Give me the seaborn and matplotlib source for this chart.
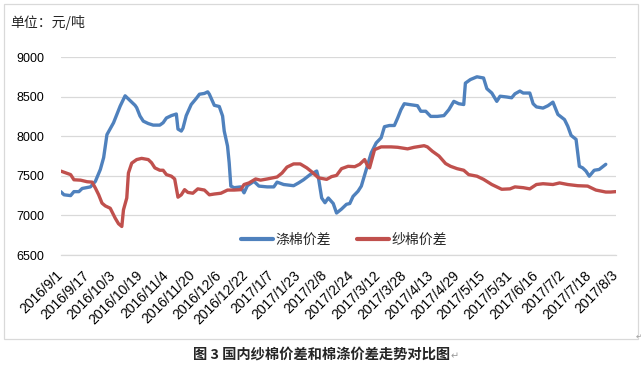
import matplotlib
matplotlib.use("Agg")
import matplotlib.pyplot as plt
import matplotlib.patches as mpatches
import matplotlib.lines as mlines
import matplotlib.transforms as mtransforms
import seaborn as sns
import pandas as pd

# ---------------- data ----------------
blue_name = "涤棉价差"
red_name = "纱棉价差"

blue_dates = [
    "2016-09-01", "2016-09-03", "2016-09-07", "2016-09-09", "2016-09-12", "2016-09-14",
    "2016-09-19", "2016-09-22", "2016-09-25", "2016-09-27", "2016-09-29", "2016-10-03",
    "2016-10-07", "2016-10-10", "2016-10-12", "2016-10-14", "2016-10-16", "2016-10-17",
    "2016-10-19", "2016-10-21", "2016-10-24", "2016-10-27", "2016-10-31", "2016-11-02",
    "2016-11-04", "2016-11-07", "2016-11-10", "2016-11-11", "2016-11-13", "2016-11-14",
    "2016-11-16", "2016-11-19", "2016-11-22", "2016-11-24", "2016-11-27", "2016-11-29",
    "2016-11-30", "2016-12-03", "2016-12-06", "2016-12-08", "2016-12-09", "2016-12-11",
    "2016-12-12", "2016-12-13", "2016-12-15", "2016-12-19", "2016-12-21", "2016-12-23",
    "2016-12-27", "2016-12-30", "2017-01-04", "2017-01-08", "2017-01-10", "2017-01-14",
    "2017-01-20", "2017-01-23", "2017-01-26", "2017-01-30", "2017-02-03", "2017-02-04",
    "2017-02-06", "2017-02-08", "2017-02-10", "2017-02-13", "2017-02-15", "2017-02-18",
    "2017-02-21", "2017-02-23", "2017-02-25", "2017-02-28", "2017-03-02", "2017-03-05",
    "2017-03-08", "2017-03-11", "2017-03-14", "2017-03-16", "2017-03-19", "2017-03-22",
    "2017-03-24", "2017-03-26", "2017-03-28", "2017-03-31", "2017-04-05", "2017-04-07",
    "2017-04-10", "2017-04-13", "2017-04-17", "2017-04-21", "2017-04-24", "2017-04-27",
    "2017-04-30", "2017-05-03", "2017-05-04", "2017-05-07", "2017-05-11", "2017-05-15",
    "2017-05-17", "2017-05-20", "2017-05-23", "2017-05-25", "2017-05-29", "2017-06-01",
    "2017-06-03", "2017-06-06", "2017-06-08", "2017-06-12", "2017-06-14", "2017-06-16",
    "2017-06-20", "2017-06-23", "2017-06-26", "2017-06-29", "2017-07-03", "2017-07-05",
    "2017-07-07", "2017-07-10", "2017-07-12", "2017-07-14", "2017-07-16", "2017-07-18",
    "2017-07-21", "2017-07-24", "2017-07-28",
]
blue_values = [
    7300, 7260, 7250, 7300, 7300, 7340,
    7360, 7430, 7580, 7730, 8020, 8170,
    8380, 8510, 8470, 8430, 8390, 8360,
    8255, 8190, 8160, 8140, 8140, 8170,
    8230, 8260, 8280, 8090, 8065, 8100,
    8260, 8400, 8475, 8530, 8540, 8560,
    8530, 8390, 8375, 8255, 8065, 7875,
    7665, 7370, 7350, 7360, 7285, 7375,
    7430, 7370, 7360, 7360, 7420, 7390,
    7375, 7410, 7450, 7515, 7560, 7480,
    7220, 7160, 7220, 7150, 7030, 7080,
    7140, 7150, 7240, 7305, 7370, 7580,
    7790, 7915, 7980, 8120, 8135, 8135,
    8230, 8335, 8410, 8400, 8385, 8315,
    8315, 8250, 8250, 8260, 8335, 8440,
    8410, 8400, 8670, 8715, 8750, 8735,
    8600, 8545, 8440, 8505, 8495, 8485,
    8535, 8570, 8545, 8545, 8410, 8370,
    8355, 8385, 8430, 8275, 8210, 8125,
    8010, 7960, 7620, 7600, 7560, 7495,
    7570, 7580, 7645,
]

red_dates = [
    "2016-09-01", "2016-09-05", "2016-09-07", "2016-09-09", "2016-09-13", "2016-09-17",
    "2016-09-20", "2016-09-22", "2016-09-24", "2016-09-26", "2016-09-28", "2016-10-01",
    "2016-10-04", "2016-10-06", "2016-10-08", "2016-10-09", "2016-10-11", "2016-10-12",
    "2016-10-14", "2016-10-17", "2016-10-20", "2016-10-24", "2016-10-26", "2016-10-28",
    "2016-10-31", "2016-11-02", "2016-11-04", "2016-11-07", "2016-11-09", "2016-11-10",
    "2016-11-11", "2016-11-13", "2016-11-15", "2016-11-17", "2016-11-20", "2016-11-23",
    "2016-11-27", "2016-11-30", "2016-12-03", "2016-12-07", "2016-12-11", "2016-12-15",
    "2016-12-19", "2016-12-21", "2016-12-24", "2016-12-28", "2016-12-31", "2017-01-04",
    "2017-01-10", "2017-01-13", "2017-01-16", "2017-01-20", "2017-01-24", "2017-01-28",
    "2017-01-31", "2017-02-04", "2017-02-09", "2017-02-12", "2017-02-15", "2017-02-18",
    "2017-02-22", "2017-02-26", "2017-03-01", "2017-03-04", "2017-03-06", "2017-03-07",
    "2017-03-10", "2017-03-14", "2017-03-20", "2017-03-24", "2017-03-30", "2017-04-03",
    "2017-04-09", "2017-04-11", "2017-04-14", "2017-04-18", "2017-04-22", "2017-04-25",
    "2017-04-29", "2017-05-03", "2017-05-06", "2017-05-11", "2017-05-15", "2017-05-20",
    "2017-05-26", "2017-05-31", "2017-06-03", "2017-06-08", "2017-06-12", "2017-06-16",
    "2017-06-20", "2017-06-26", "2017-06-30", "2017-07-05", "2017-07-11", "2017-07-17",
    "2017-07-22", "2017-07-28", "2017-07-31", "2017-08-03",
]
red_values = [
    7560, 7530, 7515, 7450, 7445, 7425,
    7420, 7345, 7260, 7155, 7120, 7090,
    6965, 6895, 6860, 7070, 7220, 7535,
    7660, 7705, 7720, 7705, 7665, 7600,
    7570, 7570, 7515, 7495, 7460, 7345,
    7230, 7260, 7325, 7290, 7280, 7335,
    7320, 7260, 7270, 7280, 7320, 7320,
    7325, 7390, 7410, 7460, 7445, 7460,
    7485, 7535, 7610, 7650, 7650, 7600,
    7550, 7475, 7455, 7490, 7505, 7590,
    7620, 7615, 7645, 7705, 7615, 7600,
    7830, 7865, 7865, 7860, 7840, 7860,
    7880, 7865, 7810, 7750, 7655, 7620,
    7590, 7570, 7515, 7495, 7455, 7390,
    7330, 7335, 7360, 7350, 7335, 7390,
    7400, 7390, 7410, 7390, 7375, 7370,
    7320, 7295, 7295, 7300,
]

tick_labels = [
    "2016/9/1", "2016/9/17", "2016/10/3", "2016/10/19", "2016/11/4", "2016/11/20",
    "2016/12/6", "2016/12/22", "2017/1/7", "2017/1/23", "2017/2/8", "2017/2/24",
    "2017/3/12", "2017/3/28", "2017/4/13", "2017/4/29", "2017/5/15", "2017/5/31",
    "2017/6/16", "2017/7/2", "2017/7/18", "2017/8/3",
]
y_ticks = [6500, 7000, 7500, 8000, 8500, 9000]

unit_text = "单位：元/吨"
caption_text = "图 3 国内纱棉价差和棉涤价差走势对比图"
para_mark = "↵"

# ---------------- frame ----------------
df = pd.concat([
    pd.DataFrame({"date": pd.to_datetime(blue_dates), "value": blue_values, "series": blue_name}),
    pd.DataFrame({"date": pd.to_datetime(red_dates), "value": red_values, "series": red_name}),
], ignore_index=True)

BLUE = "#4F81BD"
RED = "#C0504D"
GRID = "#D9D9D9"

sns.set_theme(style="white")
plt.rcParams["font.family"] = ["Noto Sans CJK SC", "DejaVu Sans"]

W, H = 643, 365
fig = plt.figure(figsize=(W / 100, H / 100), dpi=100)
fig.patch.set_facecolor("white")

# outer chart border
fig.add_artist(mpatches.Rectangle((4 / W, 1 - 339 / H), 634 / W, 335 / H,
                                  transform=fig.transFigure, fill=False,
                                  edgecolor=GRID, linewidth=0.9))

ax = fig.add_axes([60.7 / W, 1 - 255 / H, 555 / W, 198 / H])
sns.lineplot(data=df, x="date", y="value", hue="series",
             palette={blue_name: BLUE, red_name: RED},
             linewidth=2.4, ax=ax, legend=False, estimator=None, sort=True)

tick_dates = pd.to_datetime(tick_labels, format="%Y/%m/%d")
ax.set_xlim(tick_dates[0], tick_dates[-1])
ax.set_ylim(y_ticks[0], y_ticks[-1])
ax.set_yticks(y_ticks)
ax.set_yticklabels([str(v) for v in y_ticks], fontsize=9, family="Liberation Sans")
ax.set_xticks(tick_dates)
ax.set_xticklabels(tick_labels, rotation=45, ha="right", va="center",
                   rotation_mode="anchor", fontsize=10, family="Liberation Sans")
shift = mtransforms.ScaledTranslation(2 / 100, 0, fig.dpi_scale_trans)
for lbl in ax.get_xticklabels():
    lbl.set_transform(lbl.get_transform() + shift)
ax.set_xlabel("")
ax.set_ylabel("")

ax.grid(axis="y", color=GRID, linewidth=0.9)
ax.grid(axis="x", visible=False)
for s in ["top", "right", "left"]:
    ax.spines[s].set_visible(False)
ax.spines["bottom"].set_color(GRID)
ax.spines["bottom"].set_linewidth(0.9)
ax.tick_params(axis="y", length=0, pad=12, colors="#000000")
ax.tick_params(axis="x", direction="out", length=3.5, width=0.9, color=GRID,
               pad=9.5, labelcolor="#000000")
ax.set_axisbelow(True)

# legend
handles = [mlines.Line2D([], [], color=BLUE, linewidth=3),
           mlines.Line2D([], [], color=RED, linewidth=3)]
fig.legend(handles, [blue_name, red_name], loc="center",
           bbox_to_anchor=(344 / W, 1 - 240 / H), ncol=2, frameon=False,
           fontsize=10, handlelength=2.3, handletextpad=0.15, columnspacing=1.9)

fig.text(10 / W, 1 - 22 / H, unit_text, fontsize=10, ha="left", va="center")
fig.text(450 / W, 1 - 355 / H, caption_text, fontsize=10.3, fontweight="bold",
         ha="right", va="center")
fig.text(450.5 / W, 1 - 356 / H, para_mark, fontsize=7, color="#9A9A9A",
         ha="left", va="center", family=["DejaVu Sans"])
fig.text(642 / W, 1 - 337 / H, para_mark, fontsize=5, color="#9A9A9A",
         ha="right", va="center", family=["DejaVu Sans"])

fig.savefig("out.png", dpi=100)
